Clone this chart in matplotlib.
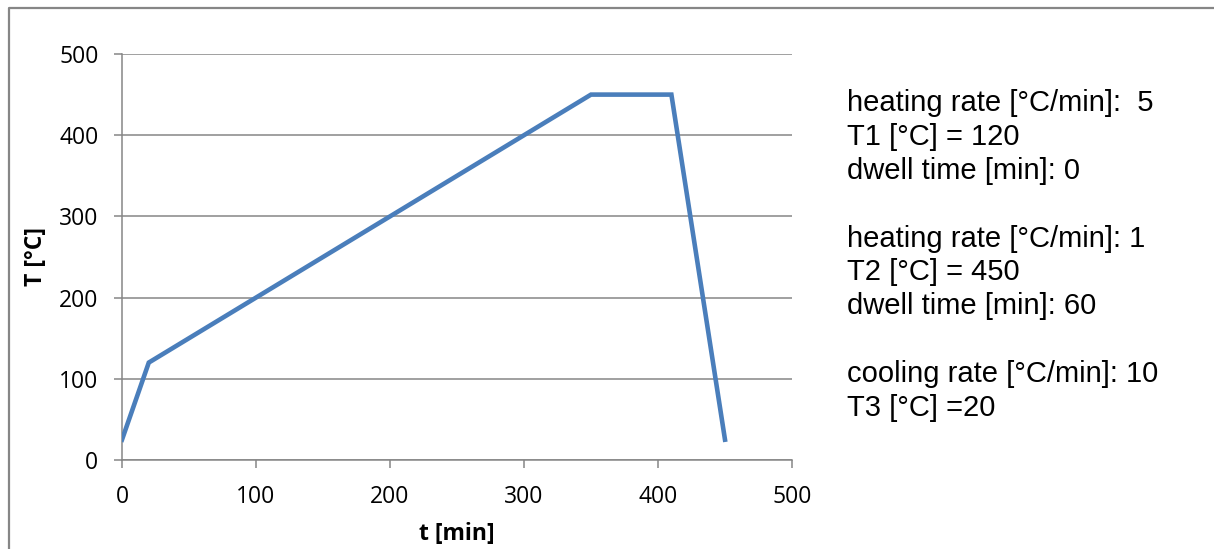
import matplotlib
matplotlib.use("Agg")
import matplotlib.pyplot as plt
from matplotlib.lines import Line2D

# Data
t_min = [0, 20, 350, 410, 450]
temp_c = [25, 120, 450, 450, 25]
x_ticks = [0, 100, 200, 300, 400, 500]
y_ticks = [0, 100, 200, 300, 400, 500]
notes = [
    "heating rate [°C/min]:  5",
    "T1 [°C] = 120",
    "dwell time [min]: 0",
    "",
    "heating rate [°C/min]: 1",
    "T2 [°C] = 450",
    "dwell time [min]: 60",
    "",
    "cooling rate [°C/min]: 10",
    "T3 [°C] =20",
]

W, H = 1214, 549
fig = plt.figure(figsize=(W / 100, H / 100), dpi=100)
fig.patch.set_facecolor("white")

ax = fig.add_axes([122 / W, (H - 460) / H, 670 / W, 406 / H])
grey = "#868686"
ax.plot(t_min, temp_c, color="#4A7EBB", lw=3.3, solid_joinstyle="miter", zorder=3)
ax.set_xlim(0, 500)
ax.set_ylim(0, 500)
ax.set_xticks(x_ticks)
ax.set_yticks(y_ticks)
ax.grid(axis="y", color=grey, lw=1.1)
ax.set_axisbelow(True)
for s in ["top", "right"]:
    ax.spines[s].set_visible(False)
for s in ["left", "bottom"]:
    ax.spines[s].set_color(grey)
    ax.spines[s].set_linewidth(1.1)
tickfont = "Open Sans"
ax.tick_params(axis="both", direction="out", length=6, width=1.1, color=grey,
               labelsize=16.5, labelcolor="black")
ax.tick_params(axis="x", pad=12)
ax.tick_params(axis="y", pad=11)
for lab in ax.get_xticklabels() + ax.get_yticklabels():
    lab.set_fontfamily(tickfont)
ax.set_xlabel("t [min]", fontfamily=tickfont, fontweight="bold", fontsize=16.5, labelpad=9)
ax.set_ylabel("T [°C]", fontfamily=tickfont, fontweight="bold", fontsize=16.5, labelpad=8)

# annotation text
base0 = 111
step = 33.9
for i, line in enumerate(notes):
    if line:
        fig.text(847 / W, 1 - (base0 + i * step) / H, line, fontfamily="Liberation Sans",
                 fontsize=21, va="baseline", ha="left", color="black")

# outer border (top and left)
fig.add_artist(Line2D([8.5 / W, 8.5 / W, 1.0], [0.0, 1 - 7.5 / H, 1 - 7.5 / H],
                      transform=fig.transFigure, color=grey, lw=1.6))

fig.savefig("out.png", dpi=100)
